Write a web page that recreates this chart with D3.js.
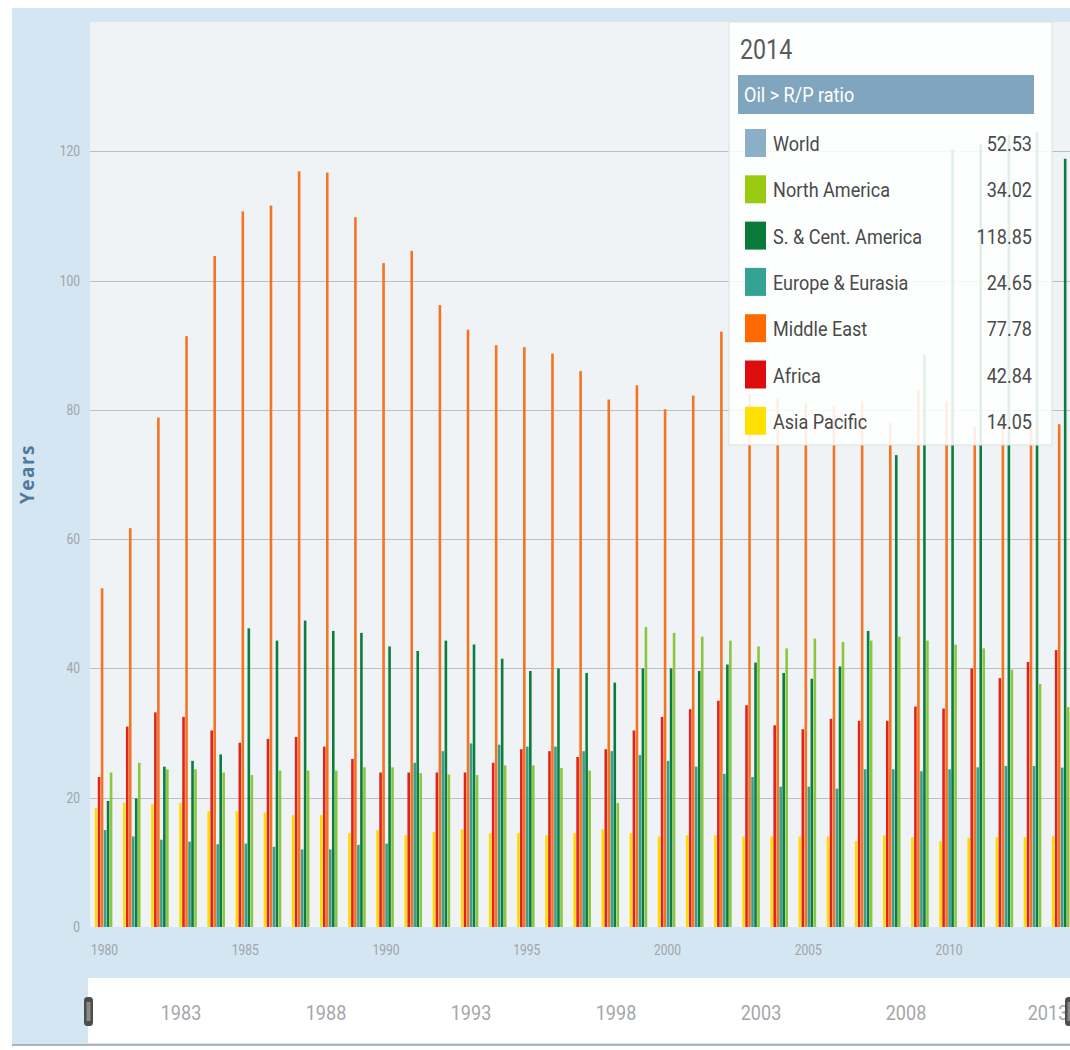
<!DOCTYPE html>
<html>
<head>
<meta charset="utf-8">
<script src="https://cdn.jsdelivr.net/npm/d3@7/dist/d3.min.js"></script>
<style>
  body { margin: 0; background: #fff; }
  svg { display: block; }
  text { font-family: "Liberation Sans Narrow", "Roboto", "DejaVu Sans Condensed", sans-serif; }
</style>
</head>
<body>
<div id="chart"></div>
<script>
// ---------------- DATA

var years = d3.range(1980, 2015);

var asiaPacific = [18.4, 19.2, 19.0, 19.2, 17.9, 17.9, 17.7, 17.3, 17.3, 14.5,
  15.0, 14.2, 14.7, 15.1, 14.5, 14.5, 14.2, 14.5, 15.1, 14.5,
  14.0, 14.2, 14.2, 14.0, 14.0, 14.0, 14.0, 13.3, 14.2, 13.9,
  13.3, 13.8, 13.9, 13.9, 14.05];

var africa = [23.2, 31.0, 33.2, 32.5, 30.4, 28.5, 29.1, 29.4, 27.9, 26.0,
  23.9, 23.9, 23.9, 23.9, 25.4, 27.5, 27.2, 26.3, 27.5, 30.4,
  32.5, 33.7, 35.0, 34.3, 31.2, 30.6, 32.2, 31.9, 31.9, 34.1,
  33.8, 40.0, 38.5, 41.0, 42.84];

var middleEast = [52.4, 61.7, 78.8, 91.4, 103.8, 110.7, 111.6, 116.9, 116.7, 109.8,
  102.7, 104.6, 96.2, 92.4, 90.0, 89.7, 88.7, 86.0, 81.6, 83.8,
  80.1, 82.2, 92.1, 82.5, 81.8, 81.0, 80.5, 81.4, 78.0, 83.0,
  81.3, 77.4, 78.5, 78.4, 77.78];

var europeEurasia = [15.0, 14.0, 13.5, 13.2, 12.8, 12.9, 12.4, 12.0, 12.0, 12.7,
  12.9, 25.4, 27.2, 28.4, 28.2, 27.9, 27.9, 27.2, 27.2, 26.6,
  25.7, 24.8, 23.7, 23.2, 21.7, 21.7, 21.4, 24.4, 24.4, 24.1,
  24.4, 24.7, 24.9, 24.9, 24.65];

var southCentAmerica = [19.5, 19.9, 24.8, 25.7, 26.7, 46.2, 44.3, 47.4, 45.8, 45.5,
  43.4, 42.7, 44.3, 43.7, 41.5, 39.6, 40.0, 39.3, 37.8, 40.0,
  40.0, 39.6, 40.6, 40.9, 39.3, 38.4, 40.3, 45.8, 73.0, 88.5,
  120.3, 121.2, 122.5, 123.0, 118.85];

var northAmerica = [23.9, 25.4, 24.4, 24.4, 23.9, 23.5, 24.2, 24.2, 24.2, 24.7,
  24.7, 23.8, 23.6, 23.5, 25.0, 25.0, 24.6, 24.2, 19.2, 46.4,
  45.5, 44.9, 44.3, 43.4, 43.1, 44.6, 44.1, 44.3, 44.9, 44.3,
  43.7, 43.1, 39.8, 37.6, 34.02];

// world is only listed in the tooltip, no bars drawn for it
var world2014 = 52.53;

var yTicks = [0, 20, 40, 60, 80, 100, 120];
var xLabelYears = [1980, 1985, 1990, 1995, 2000, 2005, 2010];
var navLabelYears = [1983, 1988, 1993, 1998, 2003, 2008, 2013];

var selectedYear = 2014;

// bar order inside a year group, left to right
var series = [
  {name: "Asia Pacific", values: asiaPacific, color: "#ffdc00"},
  {name: "Africa", values: africa, color: "#e2231a"},
  {name: "Middle East", values: middleEast, color: "#f47421"},
  {name: "Europe & Eurasia", values: europeEurasia, color: "#3a9f8e"},
  {name: "S. & Cent. America", values: southCentAmerica, color: "#0b7d3e"},
  {name: "North America", values: northAmerica, color: "#8cc63e"}
];

// tooltip order, top to bottom
var legendItems = [
  {name: "World", color: "#8aafc6", value: world2014},
  {name: "North America", color: "#99cc10"},
  {name: "S. & Cent. America", color: "#0a7a3a"},
  {name: "Europe & Eurasia", color: "#34a394"},
  {name: "Middle East", color: "#ff6a00"},
  {name: "Africa", color: "#dd0d0d"},
  {name: "Asia Pacific", color: "#ffe000"}
];

// ---------------- SETUP

var W = 1070, H = 1050;
var plot = {left: 90, right: 1070, top: 22, bottom: 927};
var SQUEEZE = 0.86; // the original uses a condensed face

var svg = d3.select("#chart").append("svg")
  .attr("width", W)
  .attr("height", H);

// text squeezed horizontally so it looks like the condensed font of the original
function narrowText(parent, tx, ty, anchor, size, color, str) {
  return parent.append("g")
    .attr("transform", "translate(" + tx + "," + ty + ") scale(" + SQUEEZE + ",1)")
    .append("text")
    .attr("text-anchor", anchor)
    .attr("fill", color)
    .style("font-size", size + "px")
    .text(str);
}

var x = d3.scaleBand()
  .domain(years)
  .range([89.5, 89.5 + years.length * 28.15])
  .padding(0);

var xInner = d3.scaleBand()
  .domain(series.map(function(s){ return s.name; }))
  .range([-9, 9]);

var y = d3.scaleLinear()
  .domain([0, 140])
  .range([plot.bottom, plot.top]);

// ---------------- FRAME

svg.append("rect").attr("x", 0).attr("y", 0).attr("width", W).attr("height", H).attr("fill", "#fff");
svg.append("rect").attr("x", 12).attr("y", 8).attr("width", W - 12).attr("height", 1037).attr("fill", "#d3e6f2");
svg.append("rect")
  .attr("x", plot.left).attr("y", plot.top)
  .attr("width", plot.right - plot.left).attr("height", plot.bottom - plot.top)
  .attr("fill", "#eff3f6");
svg.append("line")
  .attr("x1", 12).attr("x2", W).attr("y1", 1045).attr("y2", 1045)
  .attr("stroke", "#9aa0a4").attr("stroke-width", 1.5);

// ---------------- Y AXIS + GRID

svg.append("g")
  .selectAll("line")
  .data(yTicks.filter(function(d){ return d > 0; }))
  .enter().append("line")
  .attr("x1", plot.left).attr("x2", plot.right)
  .attr("y1", function(d){ return Math.round(y(d)) + 0.5; })
  .attr("y2", function(d){ return Math.round(y(d)) + 0.5; })
  .attr("stroke", "#bdbfc1").attr("stroke-width", 1);

var yLabels = svg.append("g").attr("class", "axis y");
yTicks.forEach(function(t){
  narrowText(yLabels, 80, y(t) + 5, "end", 14, "#a0a4a8", t);
});

svg.append("text")
  .attr("transform", "translate(34,474) rotate(-90)")
  .attr("text-anchor", "middle")
  .attr("fill", "#4f7a9b")
  .style("font-family", "\"Open Sans\", sans-serif")
  .style("font-weight", "bold")
  .style("font-size", "19px")
  .style("letter-spacing", "1.5px")
  .text("Years");

// ---------------- BARS

svg.append("defs").append("clipPath").attr("id", "plotclip")
  .append("rect")
  .attr("x", plot.left).attr("y", plot.top)
  .attr("width", plot.right - plot.left).attr("height", plot.bottom - plot.top);

var barGroup = svg.append("g").attr("clip-path", "url(#plotclip)");

series.forEach(function(s){
  barGroup.append("g")
    .selectAll("rect")
    .data(s.values)
    .enter().append("rect")
    .attr("x", function(d, i){ return x(years[i]) + x.bandwidth() / 2 + xInner(s.name) + 0.2; })
    .attr("y", function(d){ return y(d); })
    .attr("width", 2.6)
    .attr("height", function(d){ return plot.bottom - y(d); })
    .attr("fill", s.color);
});

// ---------------- X AXIS

var xLabels = svg.append("g").attr("class", "axis x");
xLabelYears.forEach(function(yr){
  narrowText(xLabels, x(yr) + x.bandwidth() / 2 + 1, 955, "middle", 14, "#a0a4a8", yr);
});

// ---------------- NAVIGATOR

svg.append("rect")
  .attr("x", 88).attr("y", 978).attr("width", W - 88).attr("height", 65)
  .attr("fill", "#fff");

var nav = d3.scaleLinear().domain([1980, 2014]).range([94, 1080]);

var navLabels = svg.append("g");
navLabelYears.forEach(function(yr){
  narrowText(navLabels, Math.min(nav(yr), 1048), 1020, "middle", 21, "#a4a7aa", yr);
});

[88, 1069].forEach(function(hx){
  svg.append("rect")
    .attr("x", hx - 4).attr("y", 997).attr("width", 9).attr("height", 29)
    .attr("rx", 3.5).attr("fill", "#4d4d4d");
  svg.append("rect")
    .attr("x", hx - 1.5).attr("y", 1002).attr("width", 4).attr("height", 19)
    .attr("fill", "#8a8a8a");
});

// ---------------- TOOLTIP BOX

var tip = svg.append("g");

tip.append("rect")
  .attr("x", 729).attr("y", 22).attr("width", 323).attr("height", 423)
  .attr("fill", "#fff").attr("fill-opacity", 0.88)
  .attr("stroke", "#dcdfe2").attr("stroke-width", 1);

narrowText(tip, 740, 59, "start", 27, "#5a5a5a", selectedYear);

tip.append("rect")
  .attr("x", 738).attr("y", 75).attr("width", 296).attr("height", 39)
  .attr("fill", "#7fa6be");

narrowText(tip, 744, 102, "start", 21, "#fff", "Oil > R/P ratio");

var idx = years.indexOf(selectedYear);
legendItems.forEach(function(item){
  if (item.value === undefined) {
    var s = series.filter(function(d){ return d.name === item.name; })[0];
    item.value = s.values[idx];
  }
});

legendItems.forEach(function(item, i){
  var ry = 129 + i * 46.3;
  tip.append("rect")
    .attr("x", 745).attr("y", ry).attr("width", 21).attr("height", 28)
    .attr("fill", item.color);
  narrowText(tip, 773, ry + 22, "start", 21, "#4a4a4a", item.name);
  narrowText(tip, 1032, ry + 22, "end", 21, "#4a4a4a", d3.format(".2f")(item.value));
});
</script>
</body>
</html>
